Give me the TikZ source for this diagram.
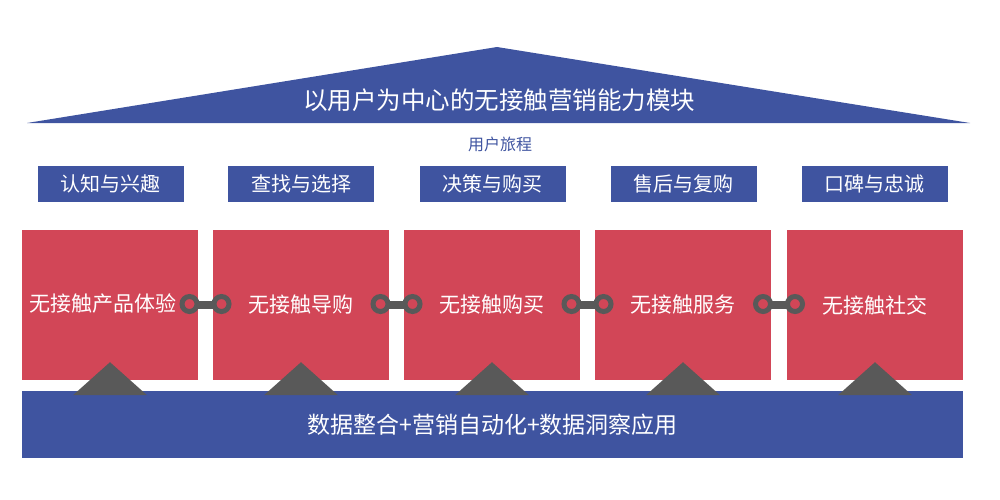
\documentclass[tikz,border=0pt]{standalone}
\usepackage{fontspec}
\setmainfont{Noto Sans CJK SC}
\usetikzlibrary{calc}
\definecolor{rblue}{HTML}{3F54A0}
\definecolor{rred}{HTML}{D24657}
\definecolor{rgray}{HTML}{595959}
\begin{document}
\begin{tikzpicture}[x=1pt,y=-1pt,
  stagebox/.style={fill=rblue,text=white,minimum width=146pt,minimum height=36pt,inner sep=0pt,font=\fontsize{20}{22}\selectfont},
  modbox/.style={fill=rred,text=white,minimum width=176pt,minimum height=150pt,inner sep=0pt,font=\fontsize{21}{23}\selectfont},
  modtext/.style={text=white,inner sep=0pt,font=\fontsize{21}{23}\selectfont},
  basebar/.style={fill=rblue,text=white,minimum width=941pt,minimum height=67pt,inner sep=0pt,font=\fontsize{23}{25}\selectfont},
  peak/.style={fill=rgray},
  link/.style={draw=rgray,line width=5pt}
]
\useasboundingbox (0,0) rectangle (1000,500);
% roof
\fill[rblue] (27,123) -- (497,47) -- (970,123) -- cycle;
\node[text=white,font=\fontsize{24.5}{27}\selectfont] (title) at (499,100) {以用户为中心的无接触营销能力模块};
\node[text=rblue,font=\fontsize{16}{18}\selectfont] (journey) at (500,144) {用户旅程};
% stages
\node[stagebox] (s1) at (110.5,184) {认知与兴趣};
\node[stagebox] (s2) at (301,184) {查找与选择};
\node[stagebox] (s3) at (492.5,184) {决策与购买};
\node[stagebox] (s4) at (683.5,184) {售后与复购};
\node[stagebox] (s5) at (874.5,184) {口碑与忠诚};
% modules
\node[modbox] (m1) at (110,305) {};
\node[modtext] (t1) at (103,304) {无接触产品体验};
\node[modbox] (m2) at (301,305) {无接触导购};
\node[modbox] (m3) at (492,305) {无接触购买};
\node[modbox] (m4) at (683,305) {无接触服务};
\node[modbox] (m5) at (875,305) {无接触社交};
% base
\node[basebar] (base) at (492.5,424.5) {数据整合+营销自动化+数据洞察应用};
% triangles
\foreach \m in {m1,m2,m3,m4,m5}{
  \fill[peak] ($(\m.south)+(0,-18)$) -- ($(\m.south)+(37,15)$) -- ($(\m.south)+(-37,15)$) -- cycle;
}
% chain links
\foreach \a/\b in {m1/m2,m2/m3,m3/m4,m4/m5}{
  \path (\a.east) -- (\b.west) coordinate[pos=0.5] (c\a);
  \fill[rgray] ($(c\a)+(-10,-4)$) rectangle ($(c\a)+(10,4)$);
  \draw[link] ($(c\a)+(-16,-1)$) circle (7.5);
  \draw[link] ($(c\a)+(16,-1)$) circle (7.5);
}
\end{tikzpicture}
\end{document}
